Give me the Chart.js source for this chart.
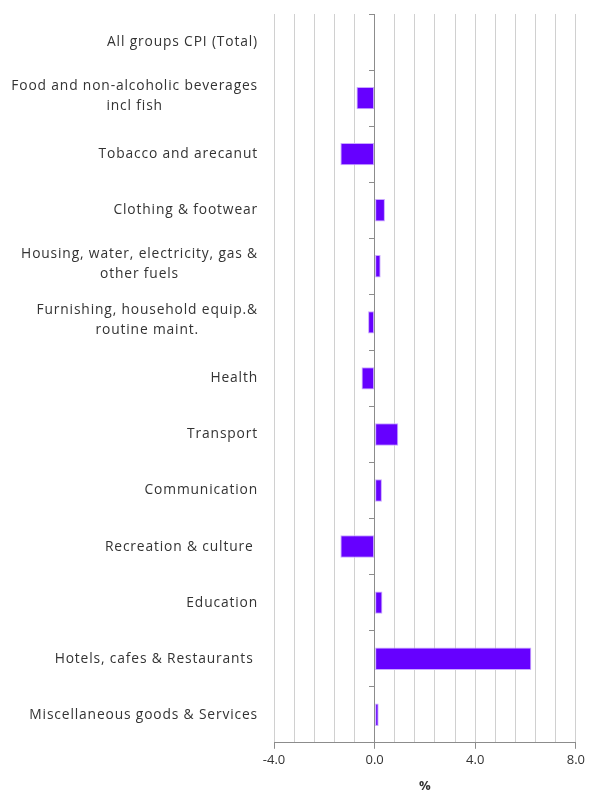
<!DOCTYPE html>
<html>
<head>
<meta charset="utf-8">
<script src="https://cdn.jsdelivr.net/npm/chart.js@4/dist/chart.umd.min.js"></script>
<style>
  html, body { margin: 0; padding: 0; background: #fff; }
  #wrap { width: 589px; height: 794px; }
</style>
</head>
<body>
<div id="wrap"><canvas id="cpiChart"></canvas></div>
<script>
// ================== Data ==================
const categories = [
  ["All groups CPI (Total)"],
  ["Food and non-alcoholic beverages", "incl fish"],
  ["Tobacco and arecanut"],
  ["Clothing & footwear"],
  ["Housing, water, electricity, gas &", "other fuels"],
  ["Furnishing, household equip.&", "routine maint."],
  ["Health"],
  ["Transport"],
  ["Communication"],
  ["Recreation & culture "],
  ["Education"],
  ["Hotels, cafes & Restaurants "],
  ["Miscellaneous goods & Services"],
];
const changes = [0, -0.72, -1.36, 0.41, 0.24, -0.26, -0.52, 0.94, 0.29, -1.36, 0.31, 6.23, 0.16];
const xLabelled = [-4, 0, 4, 8];

const FONT = "'Open Sans', Lato, sans-serif";
const TEXT = "#333333";

function isLabelled(v) {
  return xLabelled.some((t) => Math.abs(t - v) < 1e-6);
}

// category labels: block right-aligned, lines centred to each other (like Excel)
const categoryLabels = {
  id: "categoryLabels",
  afterDraw(chart) {
    const { ctx, scales } = chart;
    const y = scales.y;
    const right = chart.chartArea.left - 16;
    const lineH = 20;
    ctx.save();
    ctx.font = "13.8px " + FONT;
    ctx.letterSpacing = "0.85px";
    ctx.fillStyle = TEXT;
    ctx.textAlign = "left";
    ctx.textBaseline = "middle";
    categories.forEach((lines, i) => {
      const widths = lines.map((l) => ctx.measureText(l).width);
      const w = Math.max(...widths);
      const cx = right - w / 2;
      const cy = y.getPixelForValue(i) - (lines.length > 1 ? 2 : 0);
      lines.forEach((l, j) => {
        ctx.fillText(l, cx - widths[j] / 2, cy + (j - (lines.length - 1) / 2) * lineH);
      });
    });
    ctx.restore();
  },
};

// ================== Chart ==================
new Chart(document.getElementById("cpiChart"), {
  type: "bar",
  data: {
    labels: categories.map((c) => c.join(" ")),
    datasets: [
      {
        data: changes,
        backgroundColor: "#6600ff",
        borderColor: "#c9a8ff",
        borderWidth: 1,
        borderSkipped: false,
        categoryPercentage: 1,
        barPercentage: 0.4,
      },
    ],
  },
  options: {
    indexAxis: "y",
    responsive: true,
    maintainAspectRatio: false,
    animation: false,
    layout: { padding: { top: 14, right: 12, bottom: 0, left: 0 } },
    plugins: { legend: { display: false }, tooltip: { enabled: false } },
    scales: {
      x: {
        min: -4,
        max: 8,
        ticks: {
          stepSize: 0.8,
          autoSkip: false,
          maxRotation: 0,
          padding: 4,
          color: TEXT,
          font: { family: FONT, size: 13 },
          callback: (v) => (isLabelled(v) ? Number(v).toFixed(1) : ""),
        },
        grid: {
          color: (c) => (c.tick && Math.abs(c.tick.value) < 1e-6 ? "#8c8c8c" : "#d0d0d0"),
          tickColor: (c) => (c.tick && isLabelled(c.tick.value) ? "#8c8c8c" : "rgba(0,0,0,0)"),
          tickLength: 6,
          lineWidth: 1,
        },
        border: { color: "#8c8c8c" },
        title: {
          display: true,
          text: "%",
          color: TEXT,
          font: { family: FONT, size: 13, weight: "bold" },
          padding: { top: 6, bottom: 0 },
        },
      },
      y: {
        afterFit: (s) => { s.width = 274; },
        grid: { display: false },
        border: { display: false },
        ticks: { display: false },
      },
      y2: {
        type: "category",
        axis: "y",
        position: { x: 0 },
        offset: true,
        grid: { drawOnChartArea: false, offset: true, tickLength: 5, color: "#8c8c8c" },
        border: { color: "#8c8c8c" },
        ticks: { display: false },
      },
    },
  },
  plugins: [categoryLabels],
});
</script>
</body>
</html>
